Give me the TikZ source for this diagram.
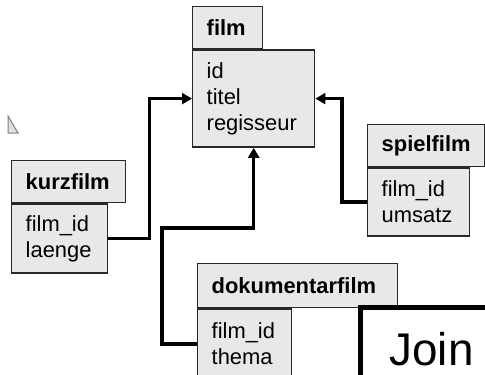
\documentclass[tikz,border=0pt]{standalone}
\usepackage{fontspec}
\setmainfont{Liberation Sans}
\usetikzlibrary{arrows.meta, positioning}

\definecolor{boxfill}{RGB}{232,232,232}
\definecolor{boxline}{RGB}{40,40,40}
\newcommand{\tabfont}{\fontsize{22}{26}\selectfont}

\begin{document}
\begin{tikzpicture}[
  x=1bp, y=-1bp,
  >={Triangle[length=10bp,width=11bp]},
  tabhead/.style={draw=boxline, fill=boxfill, line width=1.4bp, anchor=north west, font=\tabfont\bfseries,
    inner xsep=14bp, inner ysep=0pt, minimum height=42bp, align=left},
  tabbody/.style={draw=boxline, fill=boxfill, line width=1.4bp, anchor=north west, font=\tabfont,
    inner xsep=14bp, inner ysep=0pt, align=left},
  link/.style={->, line width=3.5bp, black},
  joinbox/.style={draw, line width=5bp, fill=white, anchor=north west, font=\fontsize{46}{50}\selectfont,
    inner xsep=29bp, inner ysep=25bp, text width=110bp, align=left}
]
\clip (0,0) rectangle (485,374);
\useasboundingbox (0,0) rectangle (485,374);

% small mark at the left border
\draw[gray, line width=1bp, fill=gray!25] (8,116) -- (18,133) -- (8,133) -- cycle;

% Base table
\node[tabhead, text width=42bp] (filmhead) at (192,6) {film};
\node[tabbody, text width=94bp, minimum height=97bp] (filmbody) at (filmhead.south west) {id\\titel\\regisseur};

% Sub tables
\node[tabhead, text width=86bp] (kurzhead) at (11,160) {kurzfilm};
\node[tabbody, text width=68bp, minimum height=69bp] (kurzbody) at (kurzhead.south west) {film\_id\\laenge};

\node[tabhead, text width=89bp] (spielhead) at (367,124) {spielfilm};
\node[tabbody, text width=74bp, minimum height=68bp] (spielbody) at (spielhead.south west) {film\_id\\umsatz};

\node[tabhead, text width=172bp, minimum height=44bp] (dokuhead) at (197,263) {dokumentarfilm};
\node[tabbody, text width=66bp, minimum height=70bp] (dokubody) at (dokuhead.south west) {film\_id\\thema};

% Foreign keys
\draw[link] (kurzbody.east) -- ++(41,0) |- (filmbody.west);
\draw[link] (spielbody.west) -- ++(-25,0) |- (filmbody.east);
\draw[link] (dokubody.west) -- ++(-35,0) -- ++(0,-116) -| (filmbody.south);

% Caption box
\node[joinbox] (join) at (358,305) {Join};

\end{tikzpicture}
\end{document}
